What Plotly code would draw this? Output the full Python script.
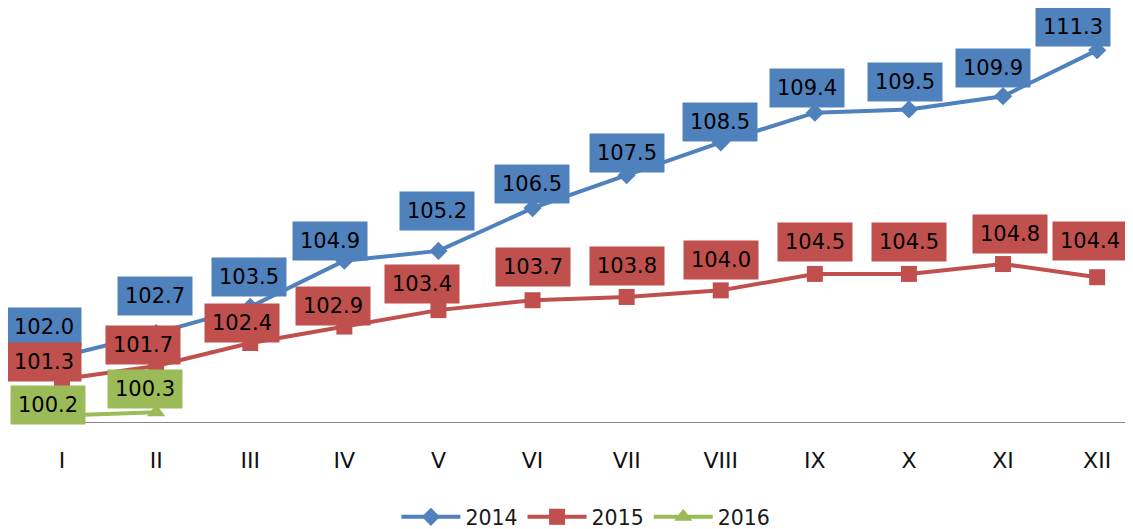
import plotly.graph_objects as go

# месеци и индекси по години
months = ['I', 'II', 'III', 'IV', 'V', 'VI', 'VII', 'VIII', 'IX', 'X', 'XI', 'XII']
idx_2014 = [102.0, 102.7, 103.5, 104.9, 105.2, 106.5, 107.5, 108.5, 109.4, 109.5, 109.9, 111.3]
idx_2015 = [101.3, 101.7, 102.4, 102.9, 103.4, 103.7, 103.8, 104.0, 104.5, 104.5, 104.8, 104.4]
idx_2016 = [100.2, 100.3]

# поместување на етикетите (стил, не податоци)
dx_2014 = [-18, -1, -1, -14, -1, -1, 0, -1, -8, -4, -10, -24]
dy_2014 = [9, 17, 10, 0, 20, 4, 2, 0, 5, 7, 8, 3]
dx_2015 = [-18, -13, -8, -11, -16, 0, 0, 0, 0, 0, 7, -7]
dy_2015 = [-3, 1, 0, 1, 6, 13, 11, 10, 12, 12, 10, 16]
dx_2016 = [-14, -11]
dy_2016 = [-10, 3]

series = [
    ('2014', idx_2014, '#4F81BD', 'diamond', 14, dx_2014, dy_2014),
    ('2015', idx_2015, '#C0504D', 'square', 16, dx_2015, dy_2015),
    ('2016', idx_2016, '#9BBB59', 'triangle-up', 16, dx_2016, dy_2016),
]

fig = go.Figure()
annotations = []
for name, vals, col, sym, msize, dxs, dys in series:
    fig.add_trace(go.Scatter(
        x=months[:len(vals)], y=vals, name=name, mode='lines+markers',
        line=dict(color=col, width=4),
        marker=dict(symbol=sym, size=msize, color=col),
        cliponaxis=False,
    ))
    for i, v in enumerate(vals):
        annotations.append(dict(
            x=months[i], y=v, xref='x', yref='y',
            text=f'{v:.1f}', showarrow=False,
            xanchor='center', yanchor='bottom',
            xshift=dxs[i], yshift=dys[i],
            bgcolor=col, width=72, height=36,
            font=dict(family='DejaVu Sans', size=21, color='#000000'),
        ))

# страницата има 8px маргина на body
fig.update_layout(
    width=1133, height=529,
    margin=dict(l=7, r=0, t=2, b=114),
    plot_bgcolor='white', paper_bgcolor='white',
    font=dict(family='DejaVu Sans', size=20, color='#1a1a1a'),
    annotations=annotations,
    showlegend=True,
    legend=dict(orientation='h', x=0.507, xanchor='center', y=-0.23, yanchor='middle',
                font=dict(size=20.5), itemwidth=59),
)
fig.update_xaxes(
    type='category', range=[-0.5, 11.466],
    showgrid=False, showline=True, linecolor='#868686', linewidth=1,
    ticks='', ticklabelstandoff=19, tickfont=dict(size=22, color='#111111'),
)
fig.update_yaxes(range=[100, 112.52], visible=False, showgrid=False, zeroline=False)

fig.write_html('out.html')
